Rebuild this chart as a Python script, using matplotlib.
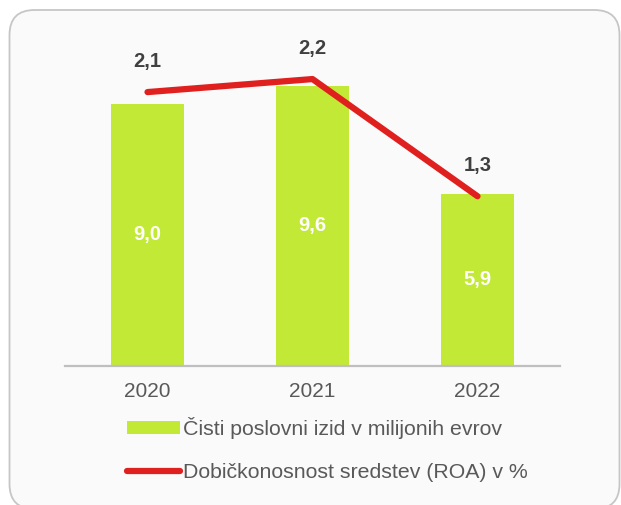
import matplotlib
matplotlib.use("Agg")
import matplotlib.pyplot as plt
from matplotlib.patches import FancyBboxPatch, Patch
from matplotlib.lines import Line2D
from matplotlib.transforms import IdentityTransform

plt.rcParams['font.family'] = ['Liberation Sans', 'DejaVu Sans']

# data
years = ["2020", "2021", "2022"]
net_result = [9.0, 9.6, 5.9]        # Čisti poslovni izid, mio EUR
roa = [2.1, 2.2, 1.3]               # ROA, %

bar_label = "Čisti poslovni izid v milijonih evrov"
line_label = "Dobičkonosnost sredstev (ROA) v %"

BAR_COLOR = "#c2e935"
LINE_COLOR = "#e01f1f"
TEXT_COLOR = "#595959"
LABEL_COLOR = "#404040"

W, H = 621, 505
fig = plt.figure(figsize=(W / 100, H / 100), dpi=100)
fig.patch.set_facecolor("white")

# rounded frame around the whole chart, in pixels (bottom edge runs off the image)
frame = FancyBboxPatch((9.5, -4), 610, 499,
                       boxstyle="round,pad=0,rounding_size=25",
                       transform=IdentityTransform(), facecolor="#fafafa",
                       edgecolor="#c6c6c6", linewidth=1.3, zorder=-1)
fig.patches.append(frame)

ax = fig.add_axes([65 / W, 139.5 / H, 495 / W, 325.5 / H])
ax.patch.set_alpha(0)
x = list(range(len(years)))
bars = ax.bar(x, net_result, width=0.44, color=BAR_COLOR, zorder=2)
ax.set_xlim(-0.5, 2.5)
ax.set_ylim(0, 11.19)
ax.set_yticks([])
for s in ["top", "left", "right"]:
    ax.spines[s].set_visible(False)
ax.spines["bottom"].set_color("#bfbfbf")
ax.spines["bottom"].set_linewidth(1.6)
ax.set_xticks(x)
ax.set_xticklabels(years, fontsize=15, color=TEXT_COLOR)
ax.tick_params(axis="x", length=0, pad=12)

for xi, v in zip(x, net_result):
    ax.text(xi, v / 2, f"{v:.1f}".replace(".", ","), ha="center", va="center",
            color="white", fontsize=14.5, fontweight="bold", zorder=3)

ax2 = ax.twinx()
ax2.set_ylim(0, 2.5)
ax2.axis("off")
ax2.plot(x, roa, color=LINE_COLOR, linewidth=4.5, solid_capstyle="round",
         solid_joinstyle="round", zorder=4)
for xi, v in zip(x, roa):
    ax2.annotate(f"{v:.1f}".replace(".", ","), (xi, v), xytext=(0, 22),
                 textcoords="offset points", ha="center", va="center",
                 color=LABEL_COLOR, fontsize=14.5, fontweight="bold")

handles = [Patch(facecolor=BAR_COLOR, edgecolor="none"),
           Line2D([0], [0], color=LINE_COLOR, linewidth=4.5, solid_capstyle="round")]
leg = fig.legend(handles, [bar_label, line_label], loc="upper left",
                 bbox_to_anchor=(127 / W, 1 - 417 / H), frameon=False,
                 fontsize=15.3, labelcolor=TEXT_COLOR, handlelength=2.5,
                 handleheight=0.55, handletextpad=0.12, labelspacing=1.15,
                 borderpad=0, borderaxespad=0)

fig.savefig("out.png", dpi=100)
